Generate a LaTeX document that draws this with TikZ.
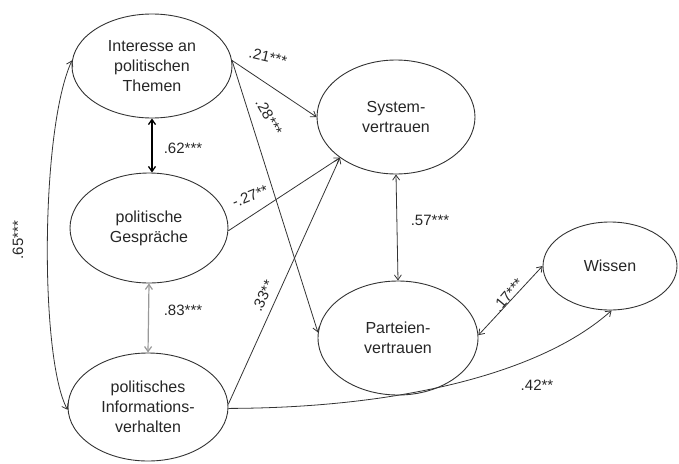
\documentclass[tikz,border=0pt]{standalone}
\usepackage{fontspec}
\setmainfont{Liberation Sans}
\usetikzlibrary{shapes.geometric,arrows.meta}
\begin{document}
\begin{tikzpicture}[x=1pt,y=-1pt,
  latent/.style={ellipse,draw=black!80,line width=0.9pt,inner sep=0pt,align=center,text=black!85,font=\fontsize{16}{20}\selectfont},
  tip/.tip={Straight Barb[length=5pt,width=7pt]},
  pathline/.style={draw=black!80,line width=0.8pt,-tip},
  cov/.style={draw=black!80,line width=0.8pt,tip-tip},
  coef/.style={font=\fontsize{15}{18}\selectfont,text=black!85,inner sep=1pt}]
\useasboundingbox (0,0) rectangle (679,463);
\node[latent,minimum width=160pt,minimum height=104pt] (int) at (152,66) {Interesse an\\politischen\\Themen};
\node[latent,minimum width=158pt,minimum height=110pt] (ges) at (149,228) {politische\\Gespräche};
\node[latent,minimum width=160pt,minimum height=108pt] (inf) at (148,407) {politisches\\Informations-\\verhalten};
\node[latent,minimum width=158pt,minimum height=114pt] (sys) at (396,117) {System-\\vertrauen};
\node[latent,minimum width=160pt,minimum height=114pt] (par) at (398,338) {Parteien-\\vertrauen};
\node[latent,minimum width=134pt,minimum height=88pt] (wis) at (610,266) {Wissen};
% paths
\draw[pathline] (int.4) -- (sys.180);
\draw[pathline] (int.4) -- (par.176);
\draw[pathline] (ges.-2) -- (sys.216);
\draw[pathline] (inf.2) -- (sys.216);
\draw[pathline] (inf.-1) .. controls (400,408) and (542,373) .. (wis.-88);
% covariances
\draw[cov,draw=black,line width=1.3pt] (int.south) -- (int.south |- ges.north);
\draw[cov,draw=black!40,line width=1.2pt] (ges.south) -- (inf.north);
\draw[cov] (sys.south) -- (par.north);
\draw[cov] (par.2) -- (wis.180);
\draw[cov] (int.176) .. controls (40,130) and (40,360) .. (inf.182);
% coefficients
\node[coef,rotate=-13] (c21) at (268,57) {.21***};
\node[coef,rotate=-60] (c28) at (269,117) {.28***};
\node[coef] (c62) at (183,148) {.62***};
\node[coef,rotate=22] (c27) at (250,196) {-.27**};
\node[coef,rotate=90] (c65) at (18,240) {.65***};
\node[coef] (c83) at (183,310) {.83***};
\node[coef,rotate=65] (c33) at (263,296) {.33**};
\node[coef] (c57) at (430,220) {.57***};
\node[coef,rotate=50] (c17) at (508,295) {.17***};
\node[coef] (c42) at (537,385) {.42**};
\end{tikzpicture}
\end{document}
